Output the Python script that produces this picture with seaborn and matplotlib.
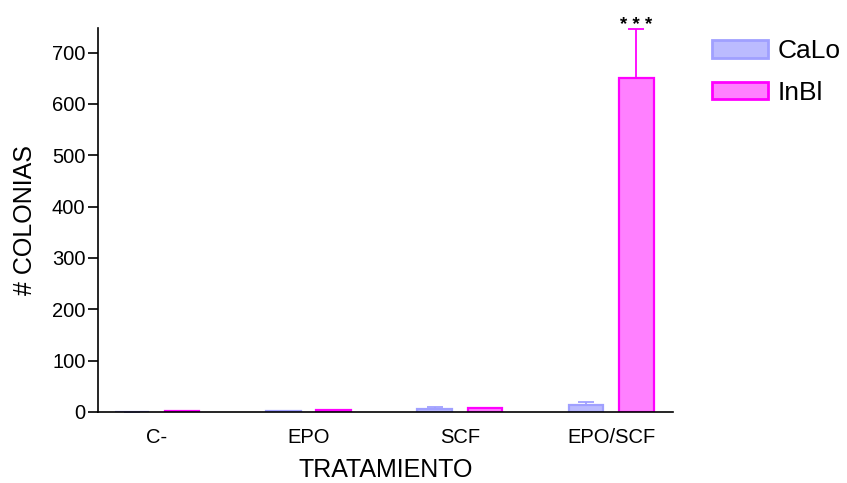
import pandas as pd
import seaborn as sns
import matplotlib.pyplot as plt
from matplotlib.patches import Patch

# data
tratamientos = ['C-', 'EPO', 'SCF', 'EPO/SCF']
calo_medias = [0, 1, 5, 14]
calo_err = [0, 0.5, 4, 5]
inbl_medias = [1, 3, 7, 650]
inbl_err = [0, 0.5, 1, 96]
y_ticks = [0, 100, 200, 300, 400, 500, 600, 700]

fill = {"CaLo": '#bbbbff', "InBl": '#ff80ff'}
edge = {"CaLo": '#a0a0ff', "InBl": '#ff00ff'}

df = pd.DataFrame({
    'tratamiento': tratamientos * 2,
    'colonias': calo_medias + inbl_medias,
    'linea': ['CaLo'] * len(tratamientos) + ['InBl'] * len(tratamientos),
})
errores = {"CaLo": calo_err, "InBl": inbl_err}
medias = {"CaLo": calo_medias, "InBl": inbl_medias}

sns.set_style('ticks')
plt.rcParams['font.family'] = ['Liberation Sans', 'DejaVu Sans']
for k in ['text.color', 'axes.labelcolor', 'xtick.color', 'ytick.color', 'axes.edgecolor']:
    plt.rcParams[k] = 'black'

fig = plt.figure(figsize=(8.47, 4.83), dpi=100)
ax = fig.add_axes([0.1157, 0.147, 0.679, 0.795])

sns.barplot(data=df, x='tratamiento', y='colonias', hue='linea',
            order=tratamientos, hue_order=['CaLo', 'InBl'],
            palette=fill, saturation=1, width=0.664, gap=0.31, errorbar=None,
            legend=False, ax=ax)

for cont, linea in zip(ax.containers, ['CaLo', 'InBl']):
    xs = []
    for bar in cont.patches:
        bar.set_edgecolor(edge[linea])
        bar.set_linewidth(1.6)
        xs.append(bar.get_x() + bar.get_width() / 2)
    ax.errorbar(xs, medias[linea], yerr=[[0] * len(xs), errores[linea]],
                fmt='none', ecolor=edge[linea], elinewidth=1.3,
                capsize=6, capthick=1.3, zorder=1)

# significance mark over EPO/SCF InBl
ultima = ax.containers[1].patches[-1]
ax.text(ultima.get_x() + ultima.get_width() / 2, inbl_medias[-1] + inbl_err[-1] - 9,
        '* * *', ha='center', va='bottom', fontsize=13.5, fontweight='bold',
        clip_on=False)

ax.set_xlim(-0.39, 3.41)
ax.set_ylim(0, 748)
ax.set_yticks(y_ticks)
ax.tick_params(axis='y', labelsize=14.5, length=7, width=1.2, pad=2)
ax.tick_params(axis='x', labelsize=14.5, length=0, pad=11.5)
ax.set_xlabel('TRATAMIENTO', fontsize=18, labelpad=8)
ax.set_ylabel('# COLONIAS', fontsize=18, labelpad=11)
sns.despine(ax=ax)
for s in ['left', 'bottom']:
    ax.spines[s].set_linewidth(1.2)

handles = [Patch(facecolor=fill[k], edgecolor=edge[k], linewidth=2, label=k)
           for k in ['CaLo', 'InBl']]
fig.legend(handles=handles, loc='upper left', bbox_to_anchor=(0.8406, 0.919),
           frameon=False, fontsize=19, handlelength=2.12, handleheight=0.64,
           handletextpad=0.35, labelspacing=0.67, borderpad=0, borderaxespad=0)

plt.savefig('out.png', dpi=100)
plt.close()
